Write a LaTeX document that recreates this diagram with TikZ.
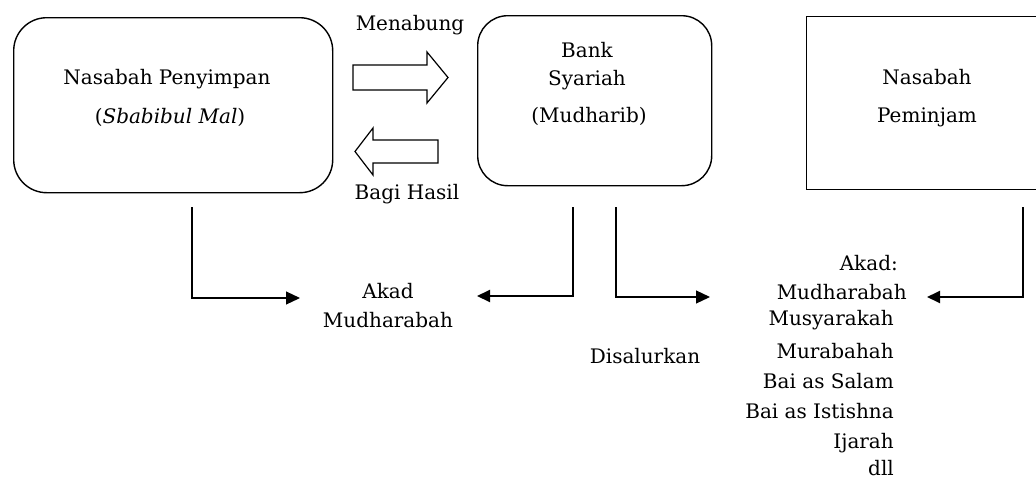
\documentclass[tikz,border=0pt]{standalone}
\usepackage{fontspec}
\setmainfont{DejaVu Serif}
\usetikzlibrary{arrows.meta}
\begin{document}
\begin{tikzpicture}[x=1pt,y=-1pt,
  txt/.style={font=\fontsize{20}{24}\selectfont, inner sep=0pt, text=black},
  rbox/.style={draw, line width=1.4pt, inner sep=0pt, anchor=north west},
  conn/.style={line width=1.2pt, -{Triangle[length=14pt,width=13pt]}},
  connb/.style={line width=2pt, -{Triangle[length=13pt,width=12pt]}},
  blockarrow/.style={draw, line width=1.2pt, fill=white, line join=miter}]
\useasboundingbox (0,0) rectangle (1036,479);
\clip (0,0) rectangle (1036,479);
% boxes
\node[rbox, rounded corners=33pt, minimum width=319pt, minimum height=175pt] (nsp) at (13,17) {};
\node[rbox, rounded corners=30pt, minimum width=234pt, minimum height=170pt] (bank) at (477,15) {};
\node[rbox, minimum width=260pt, minimum height=173pt] (pem) at (806,16) {};
% box texts
\node[txt, anchor=base] (nsp1) at (167,84) {Nasabah Penyimpan};
\node[txt, anchor=base] (nsp2) at (170,123) {(\textit{Sbabibul Mal})};
\node[txt, anchor=base] (bank1) at (587,57) {Bank};
\node[txt, anchor=base] (bank2) at (587,85) {Syariah};
\node[txt, anchor=base] (bank3) at (589,122) {(Mudharib)};
\node[txt, anchor=base] (pem1) at (927,84) {Nasabah};
\node[txt, anchor=base] (pem2) at (927,122) {Peminjam};
% block arrows
\draw[blockarrow] (353,65) -- (427,65) -- (427,52) -- (448,77.5) -- (427,103) -- (427,90) -- (353,90) -- cycle;
\draw[blockarrow] (438,140) -- (373,140) -- (373,128) -- (355,151.5) -- (373,175) -- (373,163) -- (438,163) -- cycle;
\node[txt, anchor=base] (menabung) at (410,30) {Menabung};
\node[txt, anchor=base] (bagi) at (407,199) {Bagi Hasil};
% akad mudharabah
\node[txt, anchor=base] (akad1) at (388,298) {Akad};
\node[txt, anchor=base] (akad2) at (388,327) {Mudharabah};
% list
\node[txt, anchor=base east] (l0) at (898,270) {Akad:};
\node[txt, anchor=base east] (l1) at (907,299) {Mudharabah};
\node[txt, anchor=base east] (l2) at (894,325) {Musyarakah};
\node[txt, anchor=base east] (l3) at (894,358) {Murabahah};
\node[txt, anchor=base east] (l4) at (894,388) {Bai as Salam};
\node[txt, anchor=base east] (l5) at (894,418) {Bai as Istishna};
\node[txt, anchor=base east] (l6) at (894,448) {Ijarah};
\node[txt, anchor=base east] (l7) at (894,475) {dll};
\node[txt, anchor=base] (disal) at (645,363) {Disalurkan};
% connectors
\coordinate (s1) at (192,207);
\coordinate (s2) at (573,207);
\coordinate (s3) at (616,207);
\coordinate (s4) at (1023,207);
\coordinate (t1) at (300,298);
\coordinate (t2) at (477,296);
\coordinate (t3) at (710,297);
\coordinate (t4) at (927,297);
\draw[conn] (s1) |- (t1);
\draw[connb] (s2) |- (t2);
\draw[conn] (s3) |- (t3);
\draw[connb] (s4) |- (t4);
\end{tikzpicture}
\end{document}
